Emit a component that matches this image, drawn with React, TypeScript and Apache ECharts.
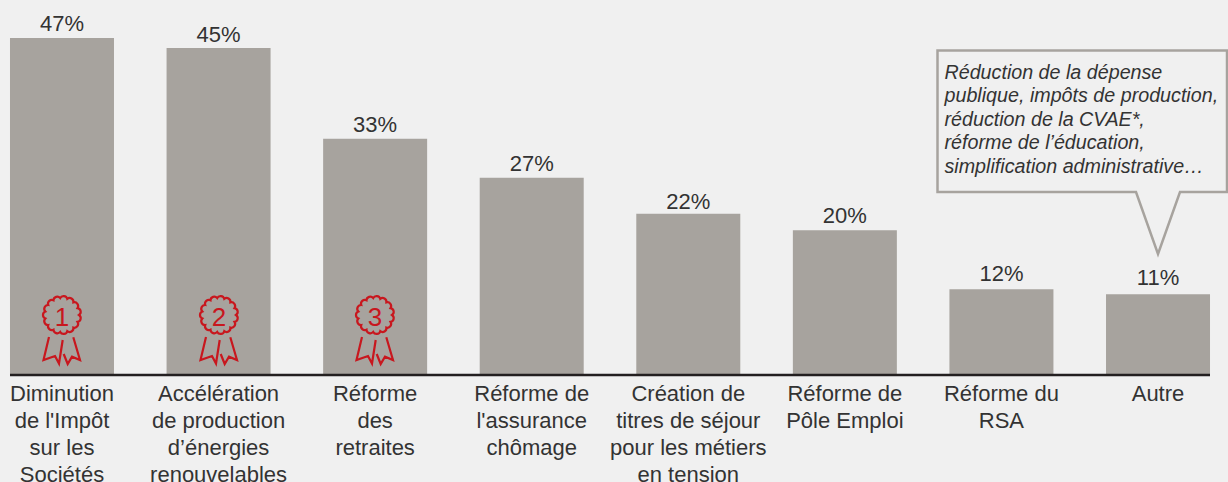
import React, { useEffect, useRef } from "react";
import * as echarts from "echarts";

const categories = [
  "Diminution\nde l'Impôt\nsur les\nSociétés",
  "Accélération\nde production\nd’énergies\nrenouvelables",
  "Réforme\ndes\nretraites",
  "Réforme de\nl'assurance\nchômage",
  "Création de\ntitres de séjour\npour les métiers\nen tension",
  "Réforme de\nPôle Emploi",
  "Réforme du\nRSA",
  "Autre",
];
const values = [46.8, 45.4, 32.8, 27.4, 22.4, 20.1, 11.9, 11.2];
const ranks = ["1", "2", "3"];
const calloutLines = [
  "Réduction de la dépense",
  "publique, impôts de production,",
  "réduction de la CVAE*,",
  "réforme de l’éducation,",
  "simplification administrative…",
];

const BG = "#f0f0f0";
const BAR = "#a7a39e";
const TEXT = "#333333";
const RED = "#c8171e";
const labelGaps = [4, 3, 3, 3, 1, 4, 5, 6];

// rosette + ribbons outline, centred on (0,0)
function rosettePath(): string {
  const n = 15;
  const r = 17;
  const bump = 3.8;
  let d = "";
  for (let i = 0; i <= n; i++) {
    const a = (i / n) * Math.PI * 2;
    const x = (r * Math.cos(a)).toFixed(2);
    const y = (r * Math.sin(a)).toFixed(2);
    d += i === 0 ? `M${x} ${y}` : `A${bump} ${bump} 0 0 1 ${x} ${y}`;
  }
  d += "Z";
  d += "M-13 22L-18.5 45L-7 41L-3 48.5L0.7 25";
  d += "M11.3 22.3L18 45L10 41.7L5.7 49L1.7 39";
  return d;
}
echarts.graphic.registerShape("rosette", echarts.graphic.extendPath(rosettePath(), {}) as any);

export default function App() {
  const ref = useRef<HTMLDivElement>(null);
  useEffect(() => {
    document.body.style.margin = "0";
    document.body.style.background = BG;
    const chart = echarts.init(ref.current!, null, { renderer: "svg" });
    const cx = [62, 219, 375];
    const font = "'Liberation Sans', Arial, sans-serif";
    chart.setOption({
      animation: false,
      backgroundColor: BG,
      grid: { left: -16.3, top: 15, width: 1252.6, height: 360, outerBoundsMode: "none", containLabel: false },
      xAxis: {
        type: "category",
        data: categories,
        axisLine: { show: false },
        axisTick: { show: false },
        axisLabel: {
          interval: 0,
          color: TEXT,
          fontFamily: font,
          fontSize: 22,
          lineHeight: 27,
          margin: 5,
          verticalAlign: "top",
          hideOverlap: false,
        },
      },
      yAxis: { type: "value", min: 0, max: 50, show: false },
      series: [
        {
          type: "bar",
          data: values.map((value, i) => ({ value, label: { distance: labelGaps[i] } })),
          barWidth: 104,
          itemStyle: { color: BAR },
          label: {
            show: true,
            position: "top",
            color: TEXT,
            fontFamily: font,
            fontSize: 22,
            formatter: (p: any) => `${Math.round(p.value)}%`,
          },
        },
      ],
      graphic: [
        {
          type: "line",
          shape: { x1: 10, y1: 375, x2: 1210, y2: 375 },
          style: { stroke: "#231f20", lineWidth: 2.5 },
          z: 10,
        },
        ...ranks.flatMap((r, i) => [
          {
            type: "rosette",
            x: cx[i],
            y: 315,
            style: { fill: "none", stroke: RED, lineWidth: 2.2 },
            z: 10,
          },
          {
            type: "text",
            x: cx[i],
            y: 316.5,
            style: {
              text: r,
              fill: RED,
              font: `26px ${font}`,
              textAlign: "center",
              textVerticalAlign: "middle",
            },
            z: 10,
          },
        ]),
        {
          type: "polygon",
          shape: {
            points: [
              [937.5, 50.5],
              [1227, 50.5],
              [1227, 192],
              [1180, 192],
              [1158, 254],
              [1136, 192],
              [937.5, 192],
            ],
          },
          style: { fill: BG, stroke: BAR, lineWidth: 2.5 },
          z: 10,
        },
        ...calloutLines.map((line, i) => ({
          type: "text",
          x: 944.5,
          y: 72 + i * 23.4,
          style: {
            text: line,
            fill: TEXT,
            font: `italic 19.7px ${font}`,
            textAlign: "left",
            textVerticalAlign: "middle",
          },
          z: 11,
        })),
      ],
    });
    return () => chart.dispose();
  }, []);
  return <div ref={ref} style={{ width: 1228, height: 482 }} />;
}
